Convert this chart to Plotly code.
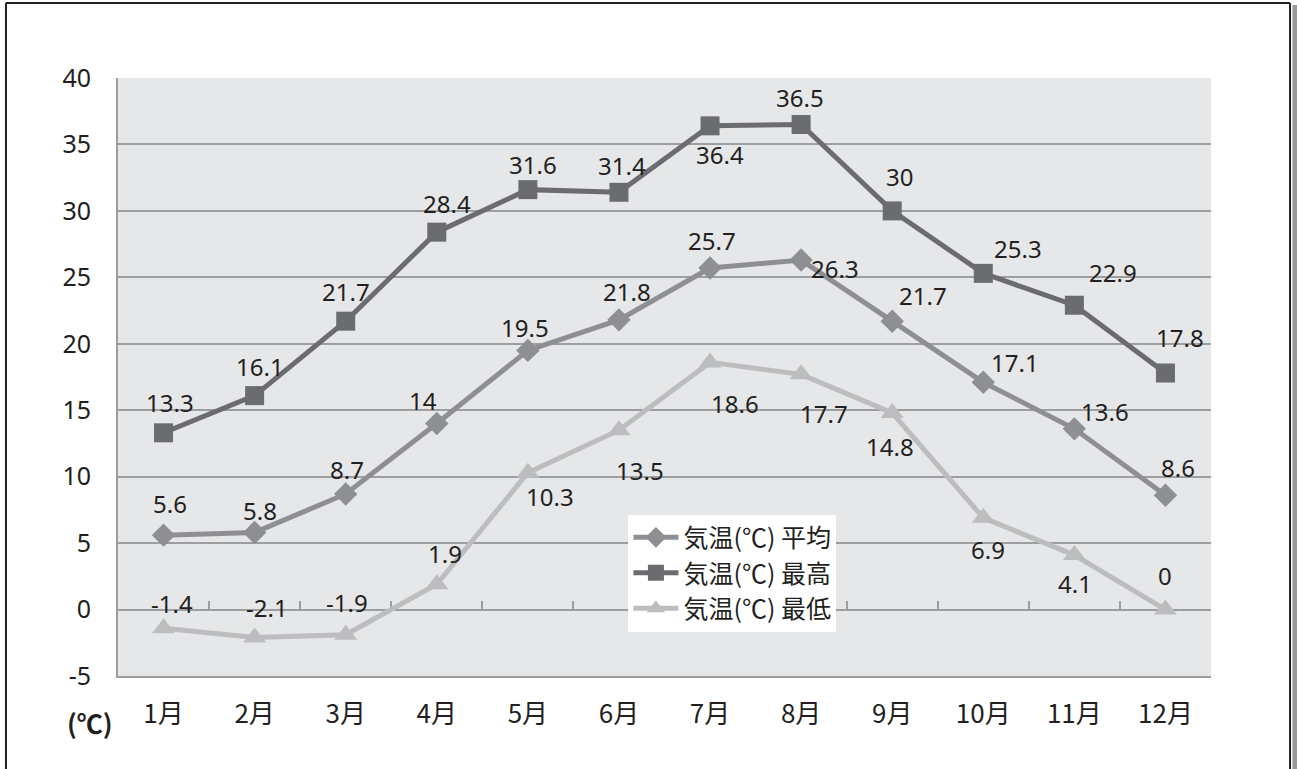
import plotly.graph_objects as go

months = ["1月", "2月", "3月", "4月", "5月", "6月", "7月", "8月", "9月", "10月", "11月", "12月"]
avg_temp = [5.6, 5.8, 8.7, 14, 19.5, 21.8, 25.7, 26.3, 21.7, 17.1, 13.6, 8.6]
max_temp = [13.3, 16.1, 21.7, 28.4, 31.6, 31.4, 36.4, 36.5, 30, 25.3, 22.9, 17.8]
min_temp = [-1.4, -2.1, -1.9, 1.9, 10.3, 13.5, 18.6, 17.7, 14.8, 6.9, 4.1, 0]

series_names = ["気温(℃) 平均", "気温(℃) 最高", "気温(℃) 最低"]
y_ticks = [-5, 0, 5, 10, 15, 20, 25, 30, 35, 40]
y_tick_text = ["-5", "0", "5", "10", "15", "20", "25", "30", "35", "40"]

# label offsets in screen pixels (dx right, dy down) -- styling only
avg_label_off = [(6, -32), (5, -22), (1, -24), (-14, -23), (-3, -23), (8, -28),
                 (2, -28), (34, 8), (31, -26), (32, -20), (31, -17), (13, -28)]
max_label_off = [(6, -30), (5, -29), (0, -30), (10, -29), (5, -25), (3, -27),
                 (10, 29), (-1, -27), (7, -34), (35, -25), (39, -33), (15, -36)]
min_label_off = [(8, -25), (12, -30), (1, -32), (8, -31), (22, 24), (21, 40),
                 (25, 41), (23, 39), (-2, 34), (5, 32), (1, 28), (0, -34)]

col_avg = "#8e8f92"
col_max = "#6b6c6f"
col_min = "#bcbdbf"
grid_col = "#9d9ea0"
txt_col = "#231f20"
num_font = "Noto Sans, Open Sans, sans-serif"
jp_font = "Noto Sans CJK JP, sans-serif"

fig = go.Figure()

fig.add_trace(go.Scatter(x=months, y=avg_temp, name=series_names[0], mode="lines+markers",
                         line=dict(color=col_avg, width=5),
                         marker=dict(symbol="diamond", size=18, color=col_avg)))
fig.add_trace(go.Scatter(x=months, y=max_temp, name=series_names[1], mode="lines+markers",
                         line=dict(color=col_max, width=5),
                         marker=dict(symbol="square", size=19, color=col_max)))
fig.add_trace(go.Scatter(x=months, y=min_temp, name=series_names[2], mode="lines+markers",
                         line=dict(color=col_min, width=5),
                         marker=dict(symbol="triangle-up", size=20, color=col_min)))
# invisible helper trace on the axis that crosses at zero
fig.add_trace(go.Scatter(x=months, y=avg_temp, xaxis="x2", mode="lines", opacity=0,
                         showlegend=False, hoverinfo="skip"))

annotations = []
for vals, offs in ((avg_temp, avg_label_off), (max_temp, max_label_off), (min_temp, min_label_off)):
    for m, v, (dx, dy) in zip(months, vals, offs):
        annotations.append(dict(x=m, y=v, xref="x", yref="y", text=str(v), showarrow=False,
                                xshift=dx, yshift=-dy,
                                font=dict(family=num_font, size=24, color=txt_col)))

annotations.append(dict(x=-0.0256, y=-0.077, xref="paper", yref="paper", text="<b>(℃)</b>",
                        showarrow=False, xanchor="center", yanchor="middle",
                        font=dict(family=jp_font, size=26, color=txt_col)))

fig.update_layout(
    width=1297, height=769,
    margin=dict(l=118, r=86, t=78, b=93),
    paper_bgcolor="white",
    plot_bgcolor="#e6e7e8",
    showlegend=True,
    legend=dict(x=0.467, y=0.27, xanchor="left", yanchor="top",
                bgcolor="white", borderwidth=0,
                font=dict(family=jp_font, size=25, color=txt_col),
                itemwidth=45, tracegroupgap=0),
    xaxis=dict(type="category", range=[-0.5, 11.5], showgrid=False, zeroline=False,
               showline=True, linecolor=grid_col, linewidth=2, ticks="",
               ticklabelstandoff=14, automargin=False,
               tickfont=dict(family=jp_font, size=26, color=txt_col)),
    xaxis2=dict(type="category", overlaying="x", anchor="free", position=5 / 45,
                range=[-0.5, 11.5], showgrid=False, zeroline=False, showline=True,
                linecolor=grid_col, linewidth=2, ticks="inside", ticklen=8, tickwidth=2,
                tickcolor=grid_col, tickson="boundaries", showticklabels=False,
                layer="below traces"),
    yaxis=dict(range=[-5, 40], tickvals=y_ticks, ticktext=y_tick_text, showgrid=True,
               gridcolor=grid_col, gridwidth=2, zeroline=False, showline=True,
               linecolor=grid_col, linewidth=2, ticks="", ticklabelstandoff=20,
               automargin=False,
               tickfont=dict(family=num_font, size=25, color=txt_col)),
    annotations=annotations,
    shapes=[
        dict(type="line", xref="paper", yref="paper", x0=-0.1025, x1=-0.1025, y0=-0.3, y1=1.1254,
             line=dict(color="#222222", width=2)),
        dict(type="line", xref="paper", yref="paper", x0=-0.1025, x1=1.0723, y0=1.1254, y1=1.1254,
             line=dict(color="#222222", width=2)),
        dict(type="line", xref="paper", yref="paper", x0=1.0723, x1=1.0723, y0=-0.3, y1=1.1254,
             line=dict(color="#222222", width=2)),
        dict(type="line", xref="paper", yref="paper", x0=1.0768, x1=1.0768, y0=-0.3, y1=1.1220,
             line=dict(color="#9a9a9a", width=5)),
    ],
)

fig.write_html("out.html", config={"displayModeBar": False},
               post_script="document.body.style.margin='0';")
